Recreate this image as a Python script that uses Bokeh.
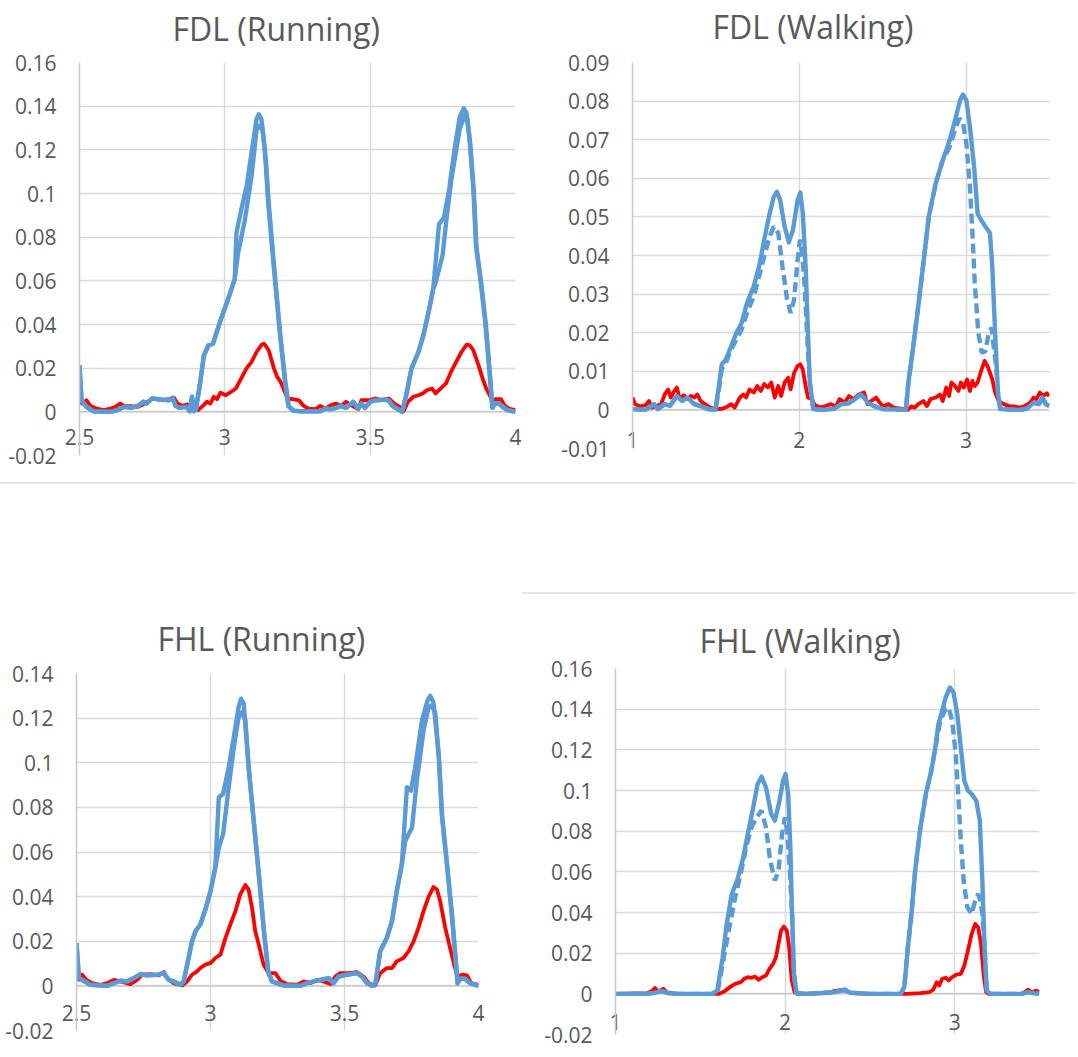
from bokeh.plotting import figure
from bokeh.models import (Range1d, FixedTicker, CustomJSTickFormatter, Div, Spacer, Span)
from bokeh.layouts import row, column
from bokeh.embed import file_html
from bokeh.resources import INLINE

FONT = "Open Sans"
TEXT = "#595959"
BLUE = "#5B9BD5"
RED = "#FF0000"
GRID = "#D9D9D9"
AXIS = "#C8C8C8"

# ---------------- ticks ----------------
run_x_ticks = [2.5, 3, 3.5, 4]
run_x_labels = ["2.5", "3", "3.5", "4"]
walk_x_ticks = [1, 2, 3]
walk_x_labels = ["1", "2", "3"]
fdl_run_y_ticks = [-0.02, 0, 0.02, 0.04, 0.06, 0.08, 0.1, 0.12, 0.14, 0.16]
fdl_run_y_labels = ["-0.02", "0", "0.02", "0.04", "0.06", "0.08", "0.1", "0.12", "0.14", "0.16"]
fdl_walk_y_ticks = [-0.01, 0, 0.01, 0.02, 0.03, 0.04, 0.05, 0.06, 0.07, 0.08, 0.09]
fdl_walk_y_labels = ["-0.01", "0", "0.01", "0.02", "0.03", "0.04", "0.05", "0.06", "0.07", "0.08", "0.09"]
fhl_run_y_ticks = [-0.02, 0, 0.02, 0.04, 0.06, 0.08, 0.1, 0.12, 0.14]
fhl_run_y_labels = ["-0.02", "0", "0.02", "0.04", "0.06", "0.08", "0.1", "0.12", "0.14"]
fhl_walk_y_ticks = [-0.02, 0, 0.02, 0.04, 0.06, 0.08, 0.1, 0.12, 0.14, 0.16]
fhl_walk_y_labels = ["-0.02", "0", "0.02", "0.04", "0.06", "0.08", "0.1", "0.12", "0.14", "0.16"]

# ---------------- FDL running ----------------
fdl_run_red_x = [2.500, 2.509, 2.524, 2.538, 2.559, 2.583, 2.607, 2.624, 2.640, 2.654, 2.678, 2.701, 2.719, 2.737,
                 2.754, 2.784, 2.808, 2.825, 2.837, 2.855, 2.873, 2.891, 2.908, 2.926, 2.938, 2.950, 2.962, 2.973,
                 2.985, 3.003, 3.021, 3.038, 3.056, 3.074, 3.092, 3.109, 3.127, 3.135, 3.151, 3.169, 3.180, 3.192,
                 3.204, 3.216, 3.234, 3.255, 3.269, 3.287, 3.311, 3.328, 3.346, 3.364, 3.382, 3.399, 3.417, 3.435,
                 3.459, 3.470, 3.494, 3.518, 3.541, 3.565, 3.583, 3.601, 3.615, 3.630, 3.648, 3.666, 3.681, 3.695,
                 3.713, 3.725, 3.743, 3.761, 3.778, 3.796, 3.814, 3.832, 3.843, 3.855, 3.873, 3.887, 3.899, 3.911,
                 3.920, 3.932, 3.950, 3.962, 3.977, 4.000]
fdl_run_red_y = [0.0061, 0.0038, 0.0053, 0.0027, 0.0015, 0.0008, 0.0015, 0.0023, 0.0038, 0.0027, 0.0026, 0.0023,
                 0.0034, 0.0049, 0.0061, 0.0053, 0.0058, 0.0064, 0.0038, 0.0027, 0.0034, 0.0012, 0.0008, 0.0030,
                 0.0046, 0.0038, 0.0069, 0.0058, 0.0088, 0.0076, 0.0091, 0.0107, 0.0152, 0.0198, 0.0229, 0.0274,
                 0.0308, 0.0312, 0.0282, 0.0198, 0.0160, 0.0137, 0.0099, 0.0061, 0.0058, 0.0053, 0.0030, 0.0015,
                 0.0012, 0.0027, 0.0015, 0.0030, 0.0038, 0.0027, 0.0046, 0.0030, 0.0012, 0.0053, 0.0053, 0.0061,
                 0.0053, 0.0061, 0.0038, 0.0023, 0.0003, 0.0046, 0.0069, 0.0076, 0.0084, 0.0099, 0.0107, 0.0084,
                 0.0107, 0.0130, 0.0183, 0.0229, 0.0274, 0.0308, 0.0305, 0.0282, 0.0213, 0.0152, 0.0107, 0.0076,
                 0.0053, 0.0058, 0.0058, 0.0030, 0.0015, 0.0008]
fdl_run_blue1_x = [2.500, 2.507, 2.524, 2.547, 2.607, 2.630, 2.654, 2.678, 2.701, 2.719, 2.731, 2.749, 2.784, 2.808,
                   2.820, 2.831, 2.843, 2.867, 2.879, 2.887, 2.893, 2.900, 2.914, 2.928, 2.944, 2.959, 2.983, 3.011,
                   3.034, 3.040, 3.057, 3.075, 3.092, 3.109, 3.117, 3.126, 3.138, 3.149, 3.166, 3.189, 3.206, 3.218,
                   3.235, 3.257, 3.328, 3.346, 3.364, 3.382, 3.399, 3.417, 3.441, 3.459, 3.470, 3.482, 3.500, 3.518,
                   3.553, 3.565, 3.577, 3.595, 3.610, 3.624, 3.642, 3.666, 3.683, 3.701, 3.717, 3.737, 3.754, 3.772,
                   3.790, 3.808, 3.822, 3.831, 3.843, 3.855, 3.864, 3.879, 3.896, 3.911, 3.920, 3.929, 3.944, 3.956,
                   3.973, 4.000]
fdl_run_blue1_y = [0.0213, 0.0053, 0.0023, 0.0003, 0.0000, 0.0008, 0.0023, 0.0018, 0.0027, 0.0046, 0.0038, 0.0061,
                   0.0056, 0.0053, 0.0064, 0.0027, 0.0018, 0.0023, 0.0003, 0.0069, 0.0003, 0.0008, 0.0122, 0.0259,
                   0.0305, 0.0312, 0.0410, 0.0516, 0.0608, 0.0821, 0.0928, 0.1035, 0.1188, 0.1340, 0.1363, 0.1340,
                   0.1200, 0.0959, 0.0699, 0.0363, 0.0150, 0.0027, 0.0005, 0.0003, 0.0003, 0.0015, 0.0012, 0.0018,
                   0.0027, 0.0018, 0.0046, 0.0015, 0.0038, 0.0018, 0.0046, 0.0053, 0.0056, 0.0050, 0.0027, 0.0012,
                   0.0000, 0.0076, 0.0198, 0.0274, 0.0350, 0.0457, 0.0564, 0.0860, 0.0890, 0.1020, 0.1200, 0.1350,
                   0.1390, 0.1370, 0.1230, 0.1020, 0.0760, 0.0610, 0.0410, 0.0168, 0.0018, 0.0038, 0.0038, 0.0023,
                   0.0008, 0.0000]
fdl_run_blue2_x = [2.500, 2.507, 2.524, 2.547, 2.607, 2.630, 2.654, 2.678, 2.701, 2.719, 2.731, 2.749, 2.784, 2.808,
                   2.820, 2.831, 2.843, 2.867, 2.879, 2.887, 2.893, 2.900, 2.914, 2.928, 2.944, 2.959, 2.983, 3.011,
                   3.034, 3.046, 3.069, 3.092, 3.109, 3.117, 3.130, 3.141, 3.152, 3.168, 3.191, 3.208, 3.220, 3.237,
                   3.257, 3.328, 3.346, 3.364, 3.382, 3.399, 3.417, 3.441, 3.459, 3.470, 3.482, 3.500, 3.518, 3.553,
                   3.565, 3.577, 3.595, 3.610, 3.624, 3.642, 3.666, 3.683, 3.701, 3.717, 3.725, 3.749, 3.764, 3.780,
                   3.808, 3.825, 3.835, 3.845, 3.857, 3.866, 3.881, 3.898, 3.913, 3.921, 3.929, 3.944, 3.956, 3.973,
                   4.000]
fdl_run_blue2_y = [0.0213, 0.0053, 0.0023, 0.0003, 0.0000, 0.0008, 0.0023, 0.0018, 0.0027, 0.0046, 0.0038, 0.0061,
                   0.0056, 0.0053, 0.0064, 0.0027, 0.0018, 0.0023, 0.0003, 0.0069, 0.0003, 0.0008, 0.0122, 0.0259,
                   0.0305, 0.0312, 0.0410, 0.0516, 0.0608, 0.0730, 0.0880, 0.1080, 0.1290, 0.1310, 0.1290, 0.1150,
                   0.0940, 0.0690, 0.0350, 0.0140, 0.0025, 0.0005, 0.0003, 0.0003, 0.0015, 0.0012, 0.0018, 0.0027,
                   0.0018, 0.0046, 0.0015, 0.0038, 0.0018, 0.0046, 0.0053, 0.0056, 0.0050, 0.0027, 0.0012, 0.0000,
                   0.0076, 0.0198, 0.0274, 0.0350, 0.0457, 0.0564, 0.0590, 0.0716, 0.0900, 0.1070, 0.1295, 0.1356,
                   0.1340, 0.1220, 0.1000, 0.0750, 0.0600, 0.0400, 0.0160, 0.0018, 0.0038, 0.0038, 0.0023, 0.0008,
                   0.0000]

# ---------------- FDL walking ----------------
fdl_walk_red_x = [1.000, 1.015, 1.046, 1.078, 1.099, 1.115, 1.140, 1.172, 1.193, 1.214, 1.229, 1.245, 1.266, 1.283,
                  1.308, 1.329, 1.350, 1.371, 1.388, 1.409, 1.434, 1.465, 1.507, 1.539, 1.570, 1.591, 1.612, 1.644,
                  1.665, 1.681, 1.702, 1.727, 1.748, 1.769, 1.790, 1.811, 1.832, 1.853, 1.874, 1.891, 1.912, 1.933,
                  1.948, 1.969, 1.990, 2.006, 2.021, 2.038, 2.052, 2.073, 2.094, 2.126, 2.157, 2.189, 2.220, 2.241,
                  2.273, 2.298, 2.325, 2.356, 2.388, 2.409, 2.430, 2.461, 2.482, 2.503, 2.535, 2.566, 2.608, 2.650,
                  2.671, 2.692, 2.713, 2.744, 2.765, 2.786, 2.818, 2.843, 2.860, 2.881, 2.898, 2.912, 2.933, 2.954,
                  2.969, 2.986, 3.006, 3.023, 3.038, 3.052, 3.069, 3.090, 3.111, 3.128, 3.143, 3.157, 3.174, 3.195,
                  3.226, 3.258, 3.289, 3.321, 3.352, 3.384, 3.405, 3.421, 3.442, 3.463, 3.484, 3.499]
fdl_walk_red_y = [0.0032, 0.0015, 0.0009, 0.0012, 0.0023, 0.0006, 0.0009, 0.0015, 0.0040, 0.0053, 0.0032, 0.0045,
                  0.0058, 0.0028, 0.0038, 0.0028, 0.0036, 0.0032, 0.0040, 0.0023, 0.0015, 0.0006, 0.0002, 0.0003,
                  0.0009, 0.0015, 0.0006, 0.0032, 0.0040, 0.0032, 0.0053, 0.0045, 0.0062, 0.0049, 0.0067, 0.0058,
                  0.0071, 0.0032, 0.0062, 0.0036, 0.0071, 0.0083, 0.0053, 0.0096, 0.0114, 0.0118, 0.0105, 0.0062,
                  0.0032, 0.0028, 0.0012, 0.0006, 0.0010, 0.0015, 0.0009, 0.0028, 0.0019, 0.0036, 0.0028, 0.0040,
                  0.0045, 0.0015, 0.0023, 0.0032, 0.0019, 0.0009, 0.0015, 0.0006, 0.0003, 0.0000, 0.0009, 0.0006,
                  0.0015, 0.0023, 0.0010, 0.0028, 0.0032, 0.0040, 0.0023, 0.0058, 0.0036, 0.0071, 0.0062, 0.0049,
                  0.0071, 0.0058, 0.0079, 0.0049, 0.0075, 0.0062, 0.0071, 0.0101, 0.0127, 0.0114, 0.0096, 0.0079,
                  0.0045, 0.0023, 0.0015, 0.0010, 0.0009, 0.0006, 0.0010, 0.0019, 0.0032, 0.0028, 0.0045, 0.0036,
                  0.0043, 0.0036]
fdl_walk_solid_x = [1.000, 1.078, 1.130, 1.151, 1.193, 1.224, 1.266, 1.298, 1.329, 1.371, 1.413, 1.455, 1.497, 1.518,
                    1.535, 1.560, 1.591, 1.623, 1.654, 1.686, 1.727, 1.759, 1.790, 1.822, 1.847, 1.866, 1.885, 1.912,
                    1.937, 1.962, 1.990, 2.006, 2.021, 2.038, 2.052, 2.063, 2.084, 2.147, 2.210, 2.252, 2.294, 2.335,
                    2.367, 2.388, 2.409, 2.451, 2.503, 2.639, 2.654, 2.681, 2.713, 2.744, 2.776, 2.818, 2.860, 2.902,
                    2.939, 2.964, 2.981, 3.002, 3.023, 3.048, 3.069, 3.090, 3.122, 3.143, 3.157, 3.174, 3.191, 3.205,
                    3.321, 3.363, 3.405, 3.436, 3.457, 3.478, 3.499]
fdl_walk_solid_y = [0.0002, 0.0000, 0.0015, 0.0002, 0.0015, 0.0010, 0.0036, 0.0023, 0.0032, 0.0015, 0.0009, 0.0002,
                    0.0000, 0.0062, 0.0118, 0.0131, 0.0165, 0.0200, 0.0225, 0.0277, 0.0320, 0.0372, 0.0441, 0.0509,
                    0.0552, 0.0565, 0.0544, 0.0475, 0.0434, 0.0466, 0.0544, 0.0563, 0.0509, 0.0372, 0.0200, 0.0071,
                    0.0002, 0.0000, 0.0003, 0.0015, 0.0017, 0.0028, 0.0040, 0.0032, 0.0019, 0.0009, 0.0002, 0.0000,
                    0.0071, 0.0157, 0.0268, 0.0380, 0.0500, 0.0587, 0.0647, 0.0699, 0.0759, 0.0802, 0.0817, 0.0802,
                    0.0733, 0.0630, 0.0509, 0.0492, 0.0471, 0.0458, 0.0372, 0.0200, 0.0045, 0.0002, 0.0000, 0.0003,
                    0.0019, 0.0015, 0.0032, 0.0015, 0.0010]
fdl_walk_dash_x = [1.000, 1.078, 1.130, 1.151, 1.193, 1.224, 1.266, 1.298, 1.329, 1.371, 1.413, 1.455, 1.497, 1.518,
                   1.535, 1.560, 1.591, 1.623, 1.654, 1.686, 1.727, 1.759, 1.790, 1.822, 1.847, 1.874, 1.899, 1.927,
                   1.948, 1.969, 1.990, 2.004, 2.017, 2.031, 2.046, 2.063, 2.084, 2.147, 2.210, 2.252, 2.294, 2.335,
                   2.367, 2.388, 2.409, 2.451, 2.503, 2.639, 2.654, 2.681, 2.713, 2.744, 2.776, 2.818, 2.860, 2.902,
                   2.939, 2.960, 2.981, 3.002, 3.023, 3.038, 3.052, 3.073, 3.094, 3.115, 3.136, 3.153, 3.165, 3.180,
                   3.191, 3.205, 3.321, 3.363, 3.405, 3.436, 3.457, 3.478, 3.499]
fdl_walk_dash_y = [0.0002, 0.0000, 0.0015, 0.0002, 0.0015, 0.0010, 0.0036, 0.0023, 0.0032, 0.0015, 0.0009, 0.0002,
                   0.0000, 0.0053, 0.0105, 0.0122, 0.0157, 0.0182, 0.0208, 0.0251, 0.0294, 0.0346, 0.0398, 0.0449,
                   0.0475, 0.0458, 0.0372, 0.0286, 0.0251, 0.0286, 0.0389, 0.0441, 0.0406, 0.0329, 0.0200, 0.0071,
                   0.0002, 0.0000, 0.0003, 0.0015, 0.0017, 0.0028, 0.0040, 0.0032, 0.0019, 0.0009, 0.0002, 0.0000,
                   0.0071, 0.0157, 0.0268, 0.0380, 0.0500, 0.0587, 0.0647, 0.0682, 0.0733, 0.0755, 0.0746, 0.0690,
                   0.0578, 0.0458, 0.0329, 0.0200, 0.0148, 0.0152, 0.0200, 0.0213, 0.0165, 0.0114, 0.0045, 0.0002,
                   0.0000, 0.0003, 0.0019, 0.0015, 0.0032, 0.0015, 0.0010]

# ---------------- FHL running ----------------
fhl_run_red_x = [2.500, 2.509, 2.521, 2.537, 2.558, 2.589, 2.614, 2.639, 2.664, 2.701, 2.726, 2.745, 2.776, 2.807,
                 2.826, 2.838, 2.863, 2.894, 2.913, 2.931, 2.950, 2.962, 2.981, 3.000, 3.018, 3.037, 3.056, 3.074,
                 3.093, 3.111, 3.130, 3.142, 3.155, 3.167, 3.180, 3.198, 3.217, 3.242, 3.261, 3.285, 3.323, 3.348,
                 3.372, 3.397, 3.422, 3.447, 3.466, 3.484, 3.515, 3.546, 3.571, 3.590, 3.615, 3.633, 3.658, 3.677,
                 3.695, 3.720, 3.739, 3.758, 3.776, 3.795, 3.814, 3.832, 3.845, 3.857, 3.876, 3.894, 3.909, 3.922,
                 3.938, 3.957, 3.972, 4.000]
fhl_run_red_y = [0.0072, 0.0027, 0.0050, 0.0027, 0.0012, 0.0005, 0.0012, 0.0027, 0.0020, 0.0008, 0.0027, 0.0050,
                 0.0053, 0.0047, 0.0062, 0.0035, 0.0012, 0.0002, 0.0020, 0.0050, 0.0065, 0.0080, 0.0095, 0.0102,
                 0.0125, 0.0140, 0.0215, 0.0275, 0.0335, 0.0410, 0.0452, 0.0432, 0.0350, 0.0245, 0.0185, 0.0095,
                 0.0057, 0.0057, 0.0023, 0.0008, 0.0005, 0.0020, 0.0012, 0.0027, 0.0020, 0.0008, 0.0042, 0.0057,
                 0.0057, 0.0062, 0.0042, 0.0012, 0.0002, 0.0057, 0.0080, 0.0080, 0.0110, 0.0125, 0.0155, 0.0200,
                 0.0260, 0.0335, 0.0400, 0.0443, 0.0432, 0.0380, 0.0260, 0.0170, 0.0095, 0.0042, 0.0050, 0.0047,
                 0.0012, 0.0005]
fhl_run_blue1_x = [2.500, 2.509, 2.527, 2.552, 2.614, 2.639, 2.664, 2.689, 2.714, 2.739, 2.763, 2.801, 2.826, 2.844,
                   2.863, 2.888, 2.900, 2.913, 2.931, 2.944, 2.962, 2.981, 3.000, 3.018, 3.031, 3.047, 3.068, 3.087,
                   3.105, 3.114, 3.124, 3.142, 3.161, 3.180, 3.198, 3.215, 3.229, 3.248, 3.273, 3.335, 3.360, 3.385,
                   3.410, 3.441, 3.459, 3.478, 3.509, 3.546, 3.565, 3.584, 3.602, 3.615, 3.633, 3.658, 3.677, 3.695,
                   3.714, 3.733, 3.748, 3.764, 3.789, 3.810, 3.820, 3.832, 3.851, 3.863, 3.882, 3.900, 3.913, 3.922,
                   3.932, 3.950, 3.969, 4.000]
fhl_run_blue1_y = [0.0192, 0.0035, 0.0023, 0.0005, 0.0000, 0.0012, 0.0023, 0.0020, 0.0035, 0.0053, 0.0047, 0.0050,
                   0.0057, 0.0027, 0.0020, 0.0005, 0.0020, 0.0095, 0.0200, 0.0245, 0.0275, 0.0342, 0.0425, 0.0530,
                   0.0845, 0.0860, 0.0980, 0.1115, 0.1250, 0.1287, 0.1265, 0.0980, 0.0740, 0.0500, 0.0260, 0.0065,
                   0.0020, 0.0012, 0.0002, 0.0000, 0.0012, 0.0020, 0.0027, 0.0035, 0.0012, 0.0042, 0.0050, 0.0057,
                   0.0042, 0.0012, 0.0000, 0.0005, 0.0155, 0.0215, 0.0290, 0.0425, 0.0545, 0.0890, 0.0875, 0.0980,
                   0.1190, 0.1280, 0.1300, 0.1270, 0.1040, 0.0770, 0.0545, 0.0320, 0.0140, 0.0012, 0.0032, 0.0032,
                   0.0012, 0.0000]
fhl_run_blue2_x = [2.500, 2.509, 2.527, 2.552, 2.614, 2.639, 2.664, 2.689, 2.714, 2.739, 2.763, 2.801, 2.826, 2.844,
                   2.863, 2.888, 2.900, 2.913, 2.931, 2.944, 2.962, 2.981, 3.000, 3.018, 3.031, 3.047, 3.068, 3.087,
                   3.105, 3.118, 3.130, 3.144, 3.163, 3.182, 3.200, 3.216, 3.230, 3.248, 3.273, 3.335, 3.360, 3.385,
                   3.410, 3.441, 3.459, 3.478, 3.509, 3.546, 3.565, 3.584, 3.602, 3.615, 3.633, 3.658, 3.677, 3.695,
                   3.714, 3.727, 3.752, 3.770, 3.795, 3.814, 3.826, 3.839, 3.853, 3.865, 3.884, 3.902, 3.914, 3.922,
                   3.932, 3.950, 3.969, 4.000]
fhl_run_blue2_y = [0.0192, 0.0035, 0.0023, 0.0005, 0.0000, 0.0012, 0.0023, 0.0020, 0.0035, 0.0053, 0.0047, 0.0050,
                   0.0057, 0.0027, 0.0020, 0.0005, 0.0020, 0.0095, 0.0200, 0.0245, 0.0275, 0.0342, 0.0425, 0.0530,
                   0.0620, 0.0680, 0.0890, 0.1070, 0.1205, 0.1227, 0.1190, 0.0960, 0.0720, 0.0480, 0.0240, 0.0060,
                   0.0020, 0.0012, 0.0002, 0.0000, 0.0012, 0.0020, 0.0027, 0.0035, 0.0012, 0.0042, 0.0050, 0.0057,
                   0.0042, 0.0012, 0.0000, 0.0005, 0.0155, 0.0215, 0.0290, 0.0425, 0.0545, 0.0650, 0.0710, 0.0920,
                   0.1145, 0.1250, 0.1257, 0.1220, 0.1010, 0.0750, 0.0530, 0.0310, 0.0130, 0.0012, 0.0032, 0.0032,
                   0.0012, 0.0000]

# ---------------- FHL walking ----------------
fhl_walk_red_x = [1.000, 1.187, 1.218, 1.233, 1.250, 1.282, 1.303, 1.356, 1.611, 1.643, 1.674, 1.706, 1.738, 1.759,
                  1.780, 1.802, 1.823, 1.844, 1.865, 1.887, 1.908, 1.929, 1.946, 1.961, 1.976, 1.993, 2.010, 2.024,
                  2.039, 2.056, 2.077, 2.247, 2.289, 2.332, 2.364, 2.396, 2.502, 2.714, 2.798, 2.851, 2.873, 2.894,
                  2.909, 2.926, 2.947, 2.964, 2.985, 3.010, 3.036, 3.057, 3.078, 3.100, 3.121, 3.138, 3.155, 3.170,
                  3.185, 3.201, 3.393, 3.435, 3.456, 3.481, 3.498]
fhl_walk_red_y = [0.0000, 0.0003, 0.0016, 0.0029, 0.0008, 0.0025, 0.0007, 0.0000, 0.0000, 0.0013, 0.0033, 0.0049,
                  0.0057, 0.0074, 0.0082, 0.0079, 0.0085, 0.0069, 0.0082, 0.0090, 0.0123, 0.0147, 0.0180, 0.0246,
                  0.0311, 0.0331, 0.0311, 0.0229, 0.0066, 0.0008, 0.0000, 0.0003, 0.0013, 0.0020, 0.0013, 0.0003,
                  0.0000, 0.0000, 0.0003, 0.0008, 0.0020, 0.0057, 0.0041, 0.0074, 0.0079, 0.0066, 0.0082, 0.0095,
                  0.0098, 0.0139, 0.0213, 0.0295, 0.0344, 0.0328, 0.0246, 0.0098, 0.0008, 0.0000, 0.0000, 0.0020,
                  0.0008, 0.0016, 0.0007]
fhl_walk_solid_x = [1.000, 1.187, 1.229, 1.271, 1.314, 1.378, 1.568, 1.600, 1.632, 1.653, 1.685, 1.717, 1.749, 1.780,
                    1.812, 1.838, 1.861, 1.887, 1.918, 1.940, 1.967, 1.988, 2.003, 2.018, 2.031, 2.041, 2.052, 2.067,
                    2.141, 2.289, 2.353, 2.385, 2.502, 2.682, 2.703, 2.724, 2.745, 2.767, 2.798, 2.830, 2.862, 2.883,
                    2.904, 2.926, 2.947, 2.972, 2.993, 3.015, 3.036, 3.057, 3.078, 3.100, 3.127, 3.148, 3.163, 3.176,
                    3.189, 3.212, 3.393, 3.435, 3.467, 3.498]
fhl_walk_solid_y = [0.0000, 0.0000, 0.0005, 0.0013, 0.0003, 0.0000, 0.0000, 0.0016, 0.0180, 0.0328, 0.0490, 0.0557,
                    0.0655, 0.0786, 0.0917, 0.1032, 0.1068, 0.1016, 0.0885, 0.0852, 0.0950, 0.1048, 0.1081, 0.0983,
                    0.0720, 0.0393, 0.0098, 0.0003, 0.0000, 0.0008, 0.0020, 0.0005, 0.0000, 0.0000, 0.0033, 0.0229,
                    0.0393, 0.0606, 0.0819, 0.0983, 0.1097, 0.1196, 0.1327, 0.1392, 0.1458, 0.1507, 0.1482, 0.1376,
                    0.1212, 0.1048, 0.0999, 0.0983, 0.0950, 0.0852, 0.0557, 0.0229, 0.0016, 0.0000, 0.0000, 0.0008,
                    0.0003, 0.0000]
fhl_walk_dash_x = [1.000, 1.187, 1.229, 1.271, 1.314, 1.378, 1.568, 1.600, 1.632, 1.664, 1.691, 1.706, 1.738, 1.770,
                   1.802, 1.833, 1.861, 1.887, 1.912, 1.940, 1.961, 1.982, 1.999, 2.014, 2.031, 2.041, 2.052, 2.067,
                   2.141, 2.289, 2.353, 2.385, 2.502, 2.682, 2.703, 2.724, 2.745, 2.767, 2.798, 2.830, 2.862, 2.883,
                   2.915, 2.947, 2.964, 2.985, 3.006, 3.021, 3.036, 3.053, 3.074, 3.100, 3.121, 3.138, 3.151, 3.163,
                   3.176, 3.189, 3.212, 3.393, 3.435, 3.467, 3.498]
fhl_walk_dash_y = [0.0000, 0.0000, 0.0005, 0.0013, 0.0003, 0.0000, 0.0000, 0.0000, 0.0147, 0.0295, 0.0410, 0.0475,
                   0.0590, 0.0720, 0.0819, 0.0868, 0.0901, 0.0819, 0.0655, 0.0557, 0.0606, 0.0786, 0.0868, 0.0786,
                   0.0557, 0.0393, 0.0098, 0.0003, 0.0000, 0.0008, 0.0020, 0.0005, 0.0000, 0.0000, 0.0033, 0.0229,
                   0.0393, 0.0606, 0.0819, 0.0983, 0.1097, 0.1196, 0.1343, 0.1400, 0.1409, 0.1343, 0.1179, 0.0983,
                   0.0753, 0.0557, 0.0426, 0.0393, 0.0459, 0.0491, 0.0459, 0.0393, 0.0229, 0.0016, 0.0000, 0.0000,
                   0.0008, 0.0003, 0.0000]


def tick_formatter(tick_values, tick_labels):
    return CustomJSTickFormatter(
        args=dict(tv=tick_values, tl=tick_labels),
        code="for (let i = 0; i < tv.length; i++) {"
             " if (Math.abs(tv[i] - tick) < 1e-9) { return tl[i]; } }"
             " return '';")


def make_fig(title, x_rng, y_rng, xt, xl, yt, yl, fw, fh, bl, br, bt, bb, t_off, t_stand, x_stand):
    p = figure(frame_width=fw, frame_height=fh,
               x_range=Range1d(*x_rng), y_range=Range1d(*y_rng),
               output_backend="svg", toolbar_location=None,
               min_border_left=bl, min_border_right=br,
               min_border_top=bt, min_border_bottom=bb)
    p.outline_line_color = None
    p.background_fill_color = "white"
    p.border_fill_color = "white"

    p.title.text = title
    p.title.align = "left"
    p.title.offset = t_off
    p.title.standoff = t_stand
    p.title.text_font = FONT
    p.title.text_font_size = "32px"
    p.title.text_font_style = "normal"
    p.title.text_color = TEXT

    # x axis: labels lifted (negative standoff) so they sit just under the zero line
    xa = p.xaxis[0]
    xa.ticker = FixedTicker(ticks=xt)
    xa.formatter = tick_formatter(xt, xl)
    xa.major_label_standoff = x_stand
    xa.axis_line_color = None
    ya = p.yaxis[0]
    ya.ticker = FixedTicker(ticks=yt)
    ya.formatter = tick_formatter(yt, yl)
    ya.major_label_standoff = 23
    ya.axis_line_color = AXIS
    ya.axis_line_width = 1.5
    for ax in (xa, ya):
        ax.major_tick_out = 0
        ax.major_tick_in = 0
        ax.minor_tick_line_color = None
        ax.major_label_text_font = FONT
        ax.major_label_text_font_size = "21px"
        ax.major_label_text_color = TEXT

    p.xgrid.ticker = FixedTicker(ticks=xt)
    p.ygrid.ticker = FixedTicker(ticks=yt)
    for g in (p.xgrid, p.ygrid):
        g.grid_line_color = GRID
        g.grid_line_width = 1.5
    # horizontal axis line at zero
    p.add_layout(Span(location=0, dimension="width", line_color=AXIS, line_width=1.5, level="underlay"))
    return p


BW, RW = 4.4, 3.8

# FDL running
p1 = make_fig("FDL (Running)", (2.5, 4), (-0.02, 0.16), run_x_ticks, run_x_labels,
              fdl_run_y_ticks, fdl_run_y_labels, 436, 393, 79, 17, 74, 29, 93, 25, -27)
p1.line(fdl_run_red_x, fdl_run_red_y, line_color=RED, line_width=RW, line_join="round")
p1.line(fdl_run_blue2_x, fdl_run_blue2_y, line_color=BLUE, line_width=BW, line_join="round")
p1.line(fdl_run_blue1_x, fdl_run_blue1_y, line_color=BLUE, line_width=BW, line_join="round")

# FDL walking
p2 = make_fig("FDL (Walking)", (1, 3.5), (-0.01, 0.09), walk_x_ticks, walk_x_labels,
              fdl_walk_y_ticks, fdl_walk_y_labels, 417, 386, 100, 27, 76, 34, 80, 29, -17)
p2.line(fdl_walk_red_x, fdl_walk_red_y, line_color=RED, line_width=RW, line_join="round")
p2.line(fdl_walk_dash_x, fdl_walk_dash_y, line_color=BLUE, line_width=BW, line_dash="10 5")
p2.line(fdl_walk_solid_x, fdl_walk_solid_y, line_color=BLUE, line_width=BW, line_join="round")

# FHL running
p3 = make_fig("FHL (Running)", (2.5, 4), (-0.02, 0.14), run_x_ticks, run_x_labels,
              fhl_run_y_ticks, fhl_run_y_labels, 402, 357, 76, 44, 189, 20, 81, 27, -26)
p3.line(fhl_run_red_x, fhl_run_red_y, line_color=RED, line_width=RW, line_join="round")
p3.line(fhl_run_blue2_x, fhl_run_blue2_y, line_color=BLUE, line_width=BW, line_join="round")
p3.line(fhl_run_blue1_x, fhl_run_blue1_y, line_color=BLUE, line_width=BW, line_join="round")

# FHL walking
p4 = make_fig("FHL (Walking)", (1, 3.5), (-0.02, 0.16), walk_x_ticks, walk_x_labels,
              fhl_walk_y_ticks, fhl_walk_y_labels, 424, 366, 93, 37, 74, 16, 84, 13, -21)
p4.line(fhl_walk_red_x, fhl_walk_red_y, line_color=RED, line_width=RW, line_join="round")
p4.line(fhl_walk_dash_x, fhl_walk_dash_y, line_color=BLUE, line_width=BW, line_dash="10 5")
p4.line(fhl_walk_solid_x, fhl_walk_solid_y, line_color=BLUE, line_width=BW, line_join="round")

sep_top = Div(text="", width=1076, height=2, margin=0, styles={"background-color": "#E6E6E6"})
sep_right = Div(text="", width=554, height=2, margin=0, styles={"background-color": "#E6E6E6"})

layout = column(
    row(p1, p2, spacing=0, margin=(-14, 0, 0, 0)),
    sep_top,
    row(p3, column(Spacer(width=554, height=108, margin=0), sep_right, p4, spacing=0), spacing=0),
    spacing=0,
)

with open("out.html", "w") as f:
    f.write(file_html(layout, INLINE))
